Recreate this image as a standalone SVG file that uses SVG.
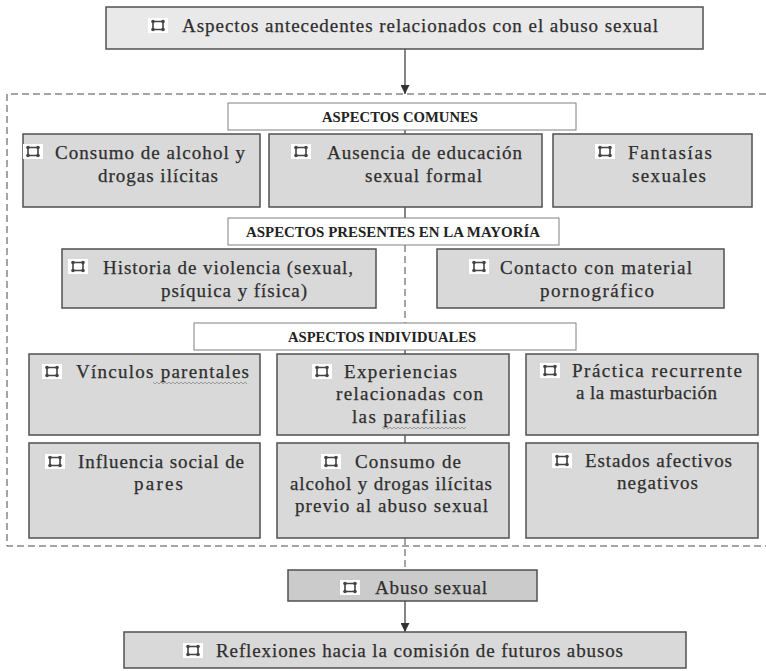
<svg xmlns="http://www.w3.org/2000/svg" width="766" height="671" viewBox="0 0 766 671">
<style>
.bx{fill:#d9d9d9;stroke:#505050;stroke-width:1.5}
.top{fill:#e9e9e9;stroke:#505050;stroke-width:1.5}
.ab{fill:#cbcbcb;stroke:#505050;stroke-width:1.5}
.hd{fill:#ffffff;stroke:#808080;stroke-width:1}
.t{font-family:"Liberation Serif","Times New Roman",serif;font-size:19px;fill:#2e2e2e;stroke:#2e2e2e;stroke-width:0.25}
.h{font-family:"Liberation Serif","Times New Roman",serif;font-size:14px;font-weight:bold;fill:#222}
.ln{stroke:#333;stroke-width:1.2;fill:none}
.dl{stroke:#4a4a4a;stroke-width:1;fill:none;stroke-dasharray:7,4}
.sq{stroke:#8a8a8a;stroke-width:0.8;fill:none}
</style>
<defs>
<marker id="ar" viewBox="0 0 10 10" refX="10" refY="5" markerWidth="9" markerHeight="9" markerUnits="userSpaceOnUse" orient="auto">
<path d="M0,0 L10,5 L0,10 z" fill="#333"/>
</marker>
<symbol id="ic" viewBox="0 0 20 15" width="20" height="15" overflow="visible">
<rect x="0" y="0" width="20" height="15" fill="#ffffff"/>
<rect x="5" y="3.5" width="10" height="8" rx="1" fill="none" stroke="#444" stroke-width="1.6"/>
<circle cx="5" cy="3.5" r="1.8" fill="#444"/>
<circle cx="15" cy="3.5" r="1.8" fill="#444"/>
<circle cx="5" cy="11.5" r="1.8" fill="#444"/>
<circle cx="15" cy="11.5" r="1.8" fill="#444"/>
</symbol>
</defs>

<g id="connectors">
<path class="dl" d="M766,94 H7 V546 H766"/>
<line class="ln" x1="405" y1="49" x2="405" y2="94" marker-end="url(#ar)"/>
<line class="ln" x1="405" y1="130" x2="405" y2="134"/>
<line class="ln" x1="405" y1="207" x2="405" y2="218"/>
<line class="dl" x1="405" y1="245" x2="405" y2="323"/>
<line class="ln" x1="405" y1="350" x2="405" y2="354"/>
<line class="ln" x1="405" y1="435" x2="405" y2="443"/>
<line class="dl" x1="405" y1="538" x2="405" y2="570"/>
<line class="ln" x1="405" y1="601" x2="405" y2="632" marker-end="url(#ar)"/>
</g>

<g id="n-top">
<rect class="top" x="106" y="7" width="597" height="42"/>
<use href="#ic" x="148" y="18"/>
<text class="t" x="182" y="32" textLength="476" lengthAdjust="spacing">Aspectos antecedentes relacionados con el abuso sexual</text>
</g>

<g id="h-comunes">
<rect class="hd" x="228" y="103" width="348" height="27"/>
<text class="h" x="322" y="122" textLength="156" lengthAdjust="spacingAndGlyphs">ASPECTOS COMUNES</text>
</g>

<g id="n-c1">
<rect class="bx" x="23" y="134" width="237" height="73"/>
<use href="#ic" x="23" y="144"/>
<text class="t" x="55" y="159" textLength="190" lengthAdjust="spacing">Consumo de alcohol y</text>
<text class="t" x="98" y="182" textLength="120" lengthAdjust="spacing">drogas ilícitas</text>
</g>
<g id="n-c2">
<rect class="bx" x="269" y="134" width="273" height="73"/>
<use href="#ic" x="291" y="144"/>
<text class="t" x="327" y="159" textLength="195" lengthAdjust="spacing">Ausencia de educación</text>
<text class="t" x="365" y="182" textLength="117" lengthAdjust="spacing">sexual formal</text>
</g>
<g id="n-c3">
<rect class="bx" x="553" y="134" width="199" height="73"/>
<use href="#ic" x="595" y="144"/>
<text class="t" x="628" y="159" textLength="84" lengthAdjust="spacing">Fantasías</text>
<text class="t" x="632" y="182" textLength="74" lengthAdjust="spacing">sexuales</text>
</g>

<g id="h-presentes">
<rect class="hd" x="228" y="218" width="331" height="27"/>
<text class="h" x="246" y="237" textLength="294" lengthAdjust="spacingAndGlyphs">ASPECTOS PRESENTES EN LA MAYORÍA</text>
</g>

<g id="n-p1">
<rect class="bx" x="62" y="249" width="314" height="59"/>
<use href="#ic" x="68" y="259"/>
<text class="t" x="103" y="274" textLength="250" lengthAdjust="spacing">Historia de violencia (sexual,</text>
<text class="t" x="161" y="297" textLength="146" lengthAdjust="spacing">psíquica y física)</text>
</g>
<g id="n-p2">
<rect class="bx" x="437" y="249" width="287" height="59"/>
<use href="#ic" x="469" y="259"/>
<text class="t" x="500" y="274" textLength="192" lengthAdjust="spacing">Contacto con material</text>
<text class="t" x="540" y="297" textLength="114" lengthAdjust="spacing">pornográfico</text>
</g>

<g id="h-individuales">
<rect class="hd" x="194" y="323" width="382" height="27"/>
<text class="h" x="288" y="342" textLength="188" lengthAdjust="spacingAndGlyphs">ASPECTOS INDIVIDUALES</text>
</g>

<g id="n-i1">
<rect class="bx" x="29" y="354" width="231" height="81"/>
<use href="#ic" x="42" y="364"/>
<text class="t" x="76" y="378" textLength="173" lengthAdjust="spacing">Vínculos parentales</text>
<path class="sq" d="M153,382 l2,2 l2,-2 l2,2 l2,-2 l2,2 l2,-2 l2,2 l2,-2 l2,2 l2,-2 l2,2 l2,-2 l2,2 l2,-2 l2,2 l2,-2 l2,2 l2,-2 l2,2 l2,-2 l2,2 l2,-2 l2,2 l2,-2 l2,2 l2,-2 l2,2 l2,-2 l2,2 l2,-2 l2,2 l2,-2 l2,2 l2,-2 l2,2 l2,-2 l2,2 l2,-2 l2,2 l2,-2 l2,2 l2,-2 l2,2 l2,-2 l2,2 l2,-2 l2,2"/>
</g>
<g id="n-i2">
<rect class="bx" x="277" y="354" width="232" height="81"/>
<use href="#ic" x="312" y="364"/>
<text class="t" x="344" y="378" textLength="113" lengthAdjust="spacing">Experiencias</text>
<text class="t" x="336" y="400" textLength="147" lengthAdjust="spacing">relacionadas con</text>
<text class="t" x="352" y="423" textLength="114" lengthAdjust="spacing">las parafilias</text>
<path class="sq" d="M382,427 l2,2 l2,-2 l2,2 l2,-2 l2,2 l2,-2 l2,2 l2,-2 l2,2 l2,-2 l2,2 l2,-2 l2,2 l2,-2 l2,2 l2,-2 l2,2 l2,-2 l2,2 l2,-2 l2,2 l2,-2 l2,2 l2,-2 l2,2 l2,-2 l2,2 l2,-2 l2,2 l2,-2 l2,2 l2,-2 l2,2 l2,-2 l2,2 l2,-2 l2,2 l2,-2 l2,2 l2,-2 l2,2 l2,-2"/>
</g>
<g id="n-i3">
<rect class="bx" x="526" y="354" width="232" height="81"/>
<use href="#ic" x="540" y="363"/>
<text class="t" x="572" y="377" textLength="170" lengthAdjust="spacing">Práctica recurrente</text>
<text class="t" x="576" y="399" textLength="141" lengthAdjust="spacing">a la masturbación</text>
</g>

<g id="n-i4">
<rect class="bx" x="29" y="443" width="231" height="95"/>
<use href="#ic" x="45" y="454"/>
<text class="t" x="78" y="468" textLength="166" lengthAdjust="spacing">Influencia social de</text>
<text class="t" x="134" y="490" textLength="49" lengthAdjust="spacing">pares</text>
</g>
<g id="n-i5">
<rect class="bx" x="277" y="443" width="232" height="95"/>
<use href="#ic" x="321" y="454"/>
<text class="t" x="355" y="468" textLength="106" lengthAdjust="spacing">Consumo de</text>
<text class="t" x="290" y="490" textLength="202" lengthAdjust="spacing">alcohol y drogas ilícitas</text>
<text class="t" x="295" y="512" textLength="193" lengthAdjust="spacing">previo al abuso sexual</text>
</g>
<g id="n-i6">
<rect class="bx" x="526" y="443" width="232" height="95"/>
<use href="#ic" x="552" y="453"/>
<text class="t" x="585" y="467" textLength="147" lengthAdjust="spacing">Estados afectivos</text>
<text class="t" x="617" y="489" textLength="81" lengthAdjust="spacing">negativos</text>
</g>

<g id="n-abuso">
<rect class="ab" x="288" y="570" width="249" height="31"/>
<use href="#ic" x="340" y="580"/>
<text class="t" x="375" y="594" textLength="112" lengthAdjust="spacing">Abuso sexual</text>
</g>

<g id="n-reflexiones">
<rect class="bx" x="124" y="632" width="562" height="36"/>
<use href="#ic" x="183" y="643"/>
<text class="t" x="216" y="657" textLength="407" lengthAdjust="spacing">Reflexiones hacia la comisión de futuros abusos</text>
</g>
</svg>
